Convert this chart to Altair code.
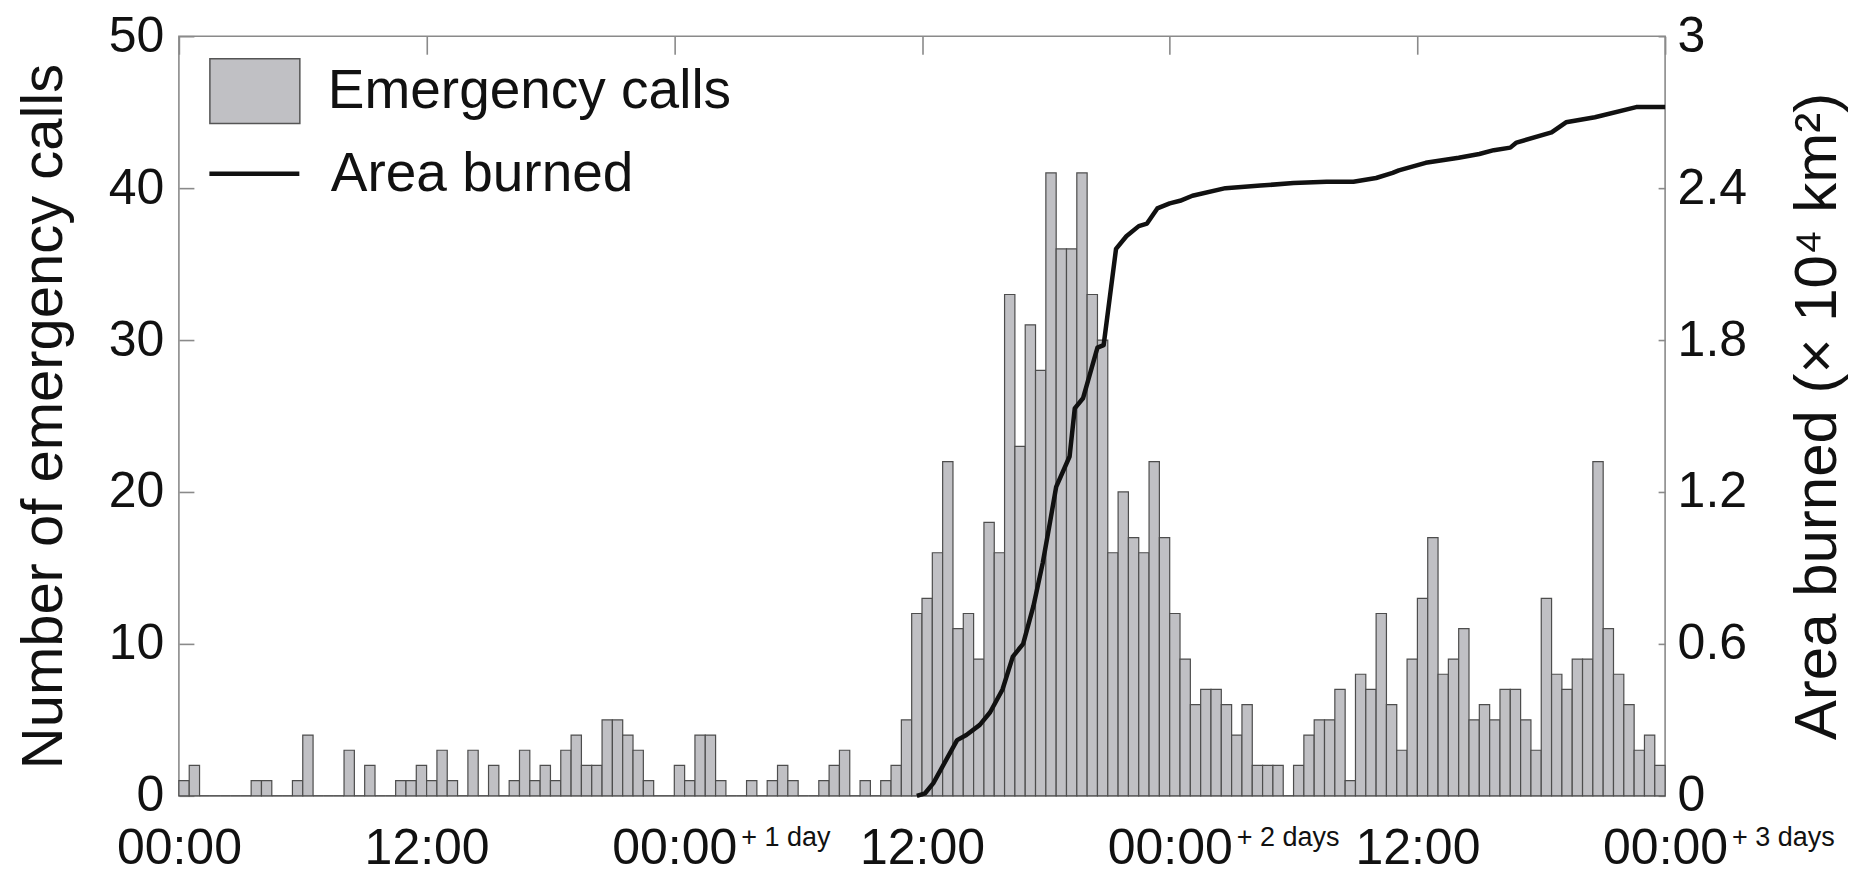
import altair as alt
import pandas as pd

FONT = "Liberation Sans"

# Emergency calls per half-hour bin (144 bins = 72 hours)
calls = [
    1, 2, 0, 0, 0, 0, 0, 1, 1, 0, 0, 1, 4, 0, 0, 0, 3, 0, 2, 0, 0, 1, 1, 2,
    1, 3, 1, 0, 3, 0, 2, 0, 1, 3, 1, 2, 1, 3, 4, 2, 2, 5, 5, 4, 3, 1, 0, 0,
    2, 1, 4, 4, 1, 0, 0, 1, 0, 1, 2, 1, 0, 0, 1, 2, 3, 0, 1, 0, 1, 2, 5, 12,
    13, 16, 22, 11, 12, 9, 18, 16, 33, 23, 31, 28, 41, 36, 36, 41, 33, 30, 16, 20, 17, 16, 22, 17,
    12, 9, 6, 7, 7, 6, 4, 6, 2, 2, 2, 0, 2, 4, 5, 5, 7, 1, 8, 7, 12, 6, 3, 9,
    13, 17, 8, 9, 11, 5, 6, 5, 7, 7, 5, 3, 13, 8, 7, 9, 9, 22, 11, 8, 6, 3, 4, 2,
]
bin_width_h = 0.5

# Cumulative area burned (x 10^4 km^2), hours since 00:00 of day 0
area_hours = [35.75, 36.15, 36.55, 37.7, 38.15, 38.8, 39.3, 39.9, 40.4, 40.9,
              41.4, 41.85, 42.2, 42.5, 43.15, 43.4, 43.8, 44.5, 44.8, 45.1,
              45.4, 45.9, 46.5, 46.9, 47.4, 48.0, 48.5, 49.1, 50.7, 52.4,
              54.0, 55.6, 56.9, 58.0, 58.8, 59.1, 60.4, 62.0, 63.0, 63.7,
              64.5, 64.8, 66.5, 67.2, 68.6, 70.6, 72.0]
area_values = [0.0, 0.01, 0.05, 0.22, 0.24, 0.28, 0.33, 0.42, 0.55, 0.60,
               0.75, 0.92, 1.08, 1.22, 1.34, 1.53, 1.57, 1.77, 1.78, 1.97,
               2.16, 2.21, 2.25, 2.26, 2.32, 2.34, 2.35, 2.37, 2.40, 2.41,
               2.42, 2.425, 2.425, 2.44, 2.46, 2.47, 2.50, 2.52, 2.535, 2.55,
               2.56, 2.58, 2.62, 2.66, 2.68, 2.72, 2.72]

x_ticks = [0, 12, 24, 36, 48, 60, 72]
y_left_ticks = [0, 10, 20, 30, 40, 50]
y_right_ticks = [0, 0.6, 1.2, 1.8, 2.4, 3]
day_hours = [24, 48, 72]
day_texts = ["+ 1 day", "+ 2 days", "+ 3 days"]
series_names = ["Emergency calls", "Area burned"]

PLOT_W, PLOT_H = 1487, 760
FRAME = "#8a8a8a"
BAR_FILL = "#c0c0c4"
BAR_STROKE = "#4d4d4d"

bars_df = pd.DataFrame({
    "start": [i * bin_width_h for i in range(len(calls))],
    "end": [(i + 1) * bin_width_h for i in range(len(calls))],
    "calls": calls,
    "series": series_names[0],
})
area_df = pd.DataFrame({"hour": area_hours, "area": area_values, "series": series_names[1]})
sup_df = pd.DataFrame({"hour": day_hours, "label": day_texts})

xscale = alt.Scale(domain=[0, 72], nice=False, zero=False)

bars = alt.Chart(bars_df).mark_bar(stroke=BAR_STROKE, strokeWidth=1.2).encode(
    x=alt.X("start:Q", scale=xscale,
            axis=alt.Axis(orient="bottom", values=x_ticks, title=None,
                          labelExpr="datum.value % 24 == 0 ? '00:00' : '12:00'",
                          ticks=False, domain=False, labelPadding=28,
                          labelFontSize=50, labelFlush=False, labelOverlap=False)),
    x2="end:Q",
    y=alt.Y("calls:Q", scale=alt.Scale(domain=[0, 50], nice=False),
            axis=alt.Axis(orient="left", values=y_left_ticks,
                          title="Number of emergency calls",
                          titleFontSize=58, titlePadding=35,
                          labelFontSize=50, labelPadding=30,
                          tickSize={"expr": "-15"}, tickColor=FRAME, tickWidth=1.6,
                          domain=False, labelFlush=False)),
    y2=alt.datum(0),
    fill=alt.Fill("series:N", scale=alt.Scale(domain=[series_names[0]], range=[BAR_FILL]),
                  legend=alt.Legend(title=None, orient="none", legendX=30, legendY=9,
                                    symbolType="M-1,-0.72H1V0.72H-1Z", symbolSize=8100,
                                    symbolStrokeColor="#555555", symbolStrokeWidth=1.5,
                                    symbolFillColor=BAR_FILL,
                                    labelFontSize=55, labelOffset=27, padding=0)),
)

line = alt.Chart(area_df).mark_line(strokeWidth=4.5, strokeJoin="round").encode(
    x=alt.X("hour:Q", scale=xscale,
            axis=alt.Axis(orient="top", values=x_ticks, labels=False, domain=False,
                          title=None, tickSize={"expr": "-18"}, tickColor=FRAME,
                          tickWidth=1.6)),
    y=alt.Y("area:Q", scale=alt.Scale(domain=[0, 3], nice=False),
            axis=alt.Axis(orient="right", values=y_right_ticks, format="~g",
                          title="Area burned (× 10⁴ km²)", titleAngle=270,
                          titleBaseline="top",
                          titleFontSize=60, titlePadding=42,
                          labelFontSize=50, labelPadding=19,
                          tickSize={"expr": "-7"}, tickColor=FRAME, tickWidth=1.6,
                          domain=False, labelFlush=False)),
    stroke=alt.Stroke("series:N", scale=alt.Scale(domain=[series_names[1]], range=["#111111"]),
                      legend=alt.Legend(title=None, orient="none", legendX=28, legendY=90,
                                        symbolType="stroke", symbolSize=8100,
                                        symbolStrokeWidth=4.5,
                                        labelFontSize=55, labelOffset=29, padding=0)),
)

sup = alt.Chart(sup_df).mark_text(align="left", baseline="top", dx=67, fontSize=27,
                                  font=FONT, color="#111111").encode(
    x=alt.X("hour:Q", scale=xscale, axis=None),
    y=alt.value(PLOT_H + 29),
    text="label:N",
)

chart = alt.layer(bars, line, sup).resolve_scale(
    y="independent", fill="independent", stroke="independent"
).resolve_axis(x="independent").properties(
    width=PLOT_W, height=PLOT_H,
    padding={"left": 7, "top": 3, "right": 0, "bottom": 0},
    background="white",
).configure_view(
    stroke=FRAME, strokeWidth=1.6
).configure_axis(
    labelFont=FONT, titleFont=FONT, labelColor="#111111", titleColor="#111111",
    titleFontWeight="normal", grid=False
).configure_legend(
    labelFont=FONT, labelColor="#111111", labelLimit=1000
)

chart.save("out.html", embed_options={"renderer": "svg", "actions": False})
